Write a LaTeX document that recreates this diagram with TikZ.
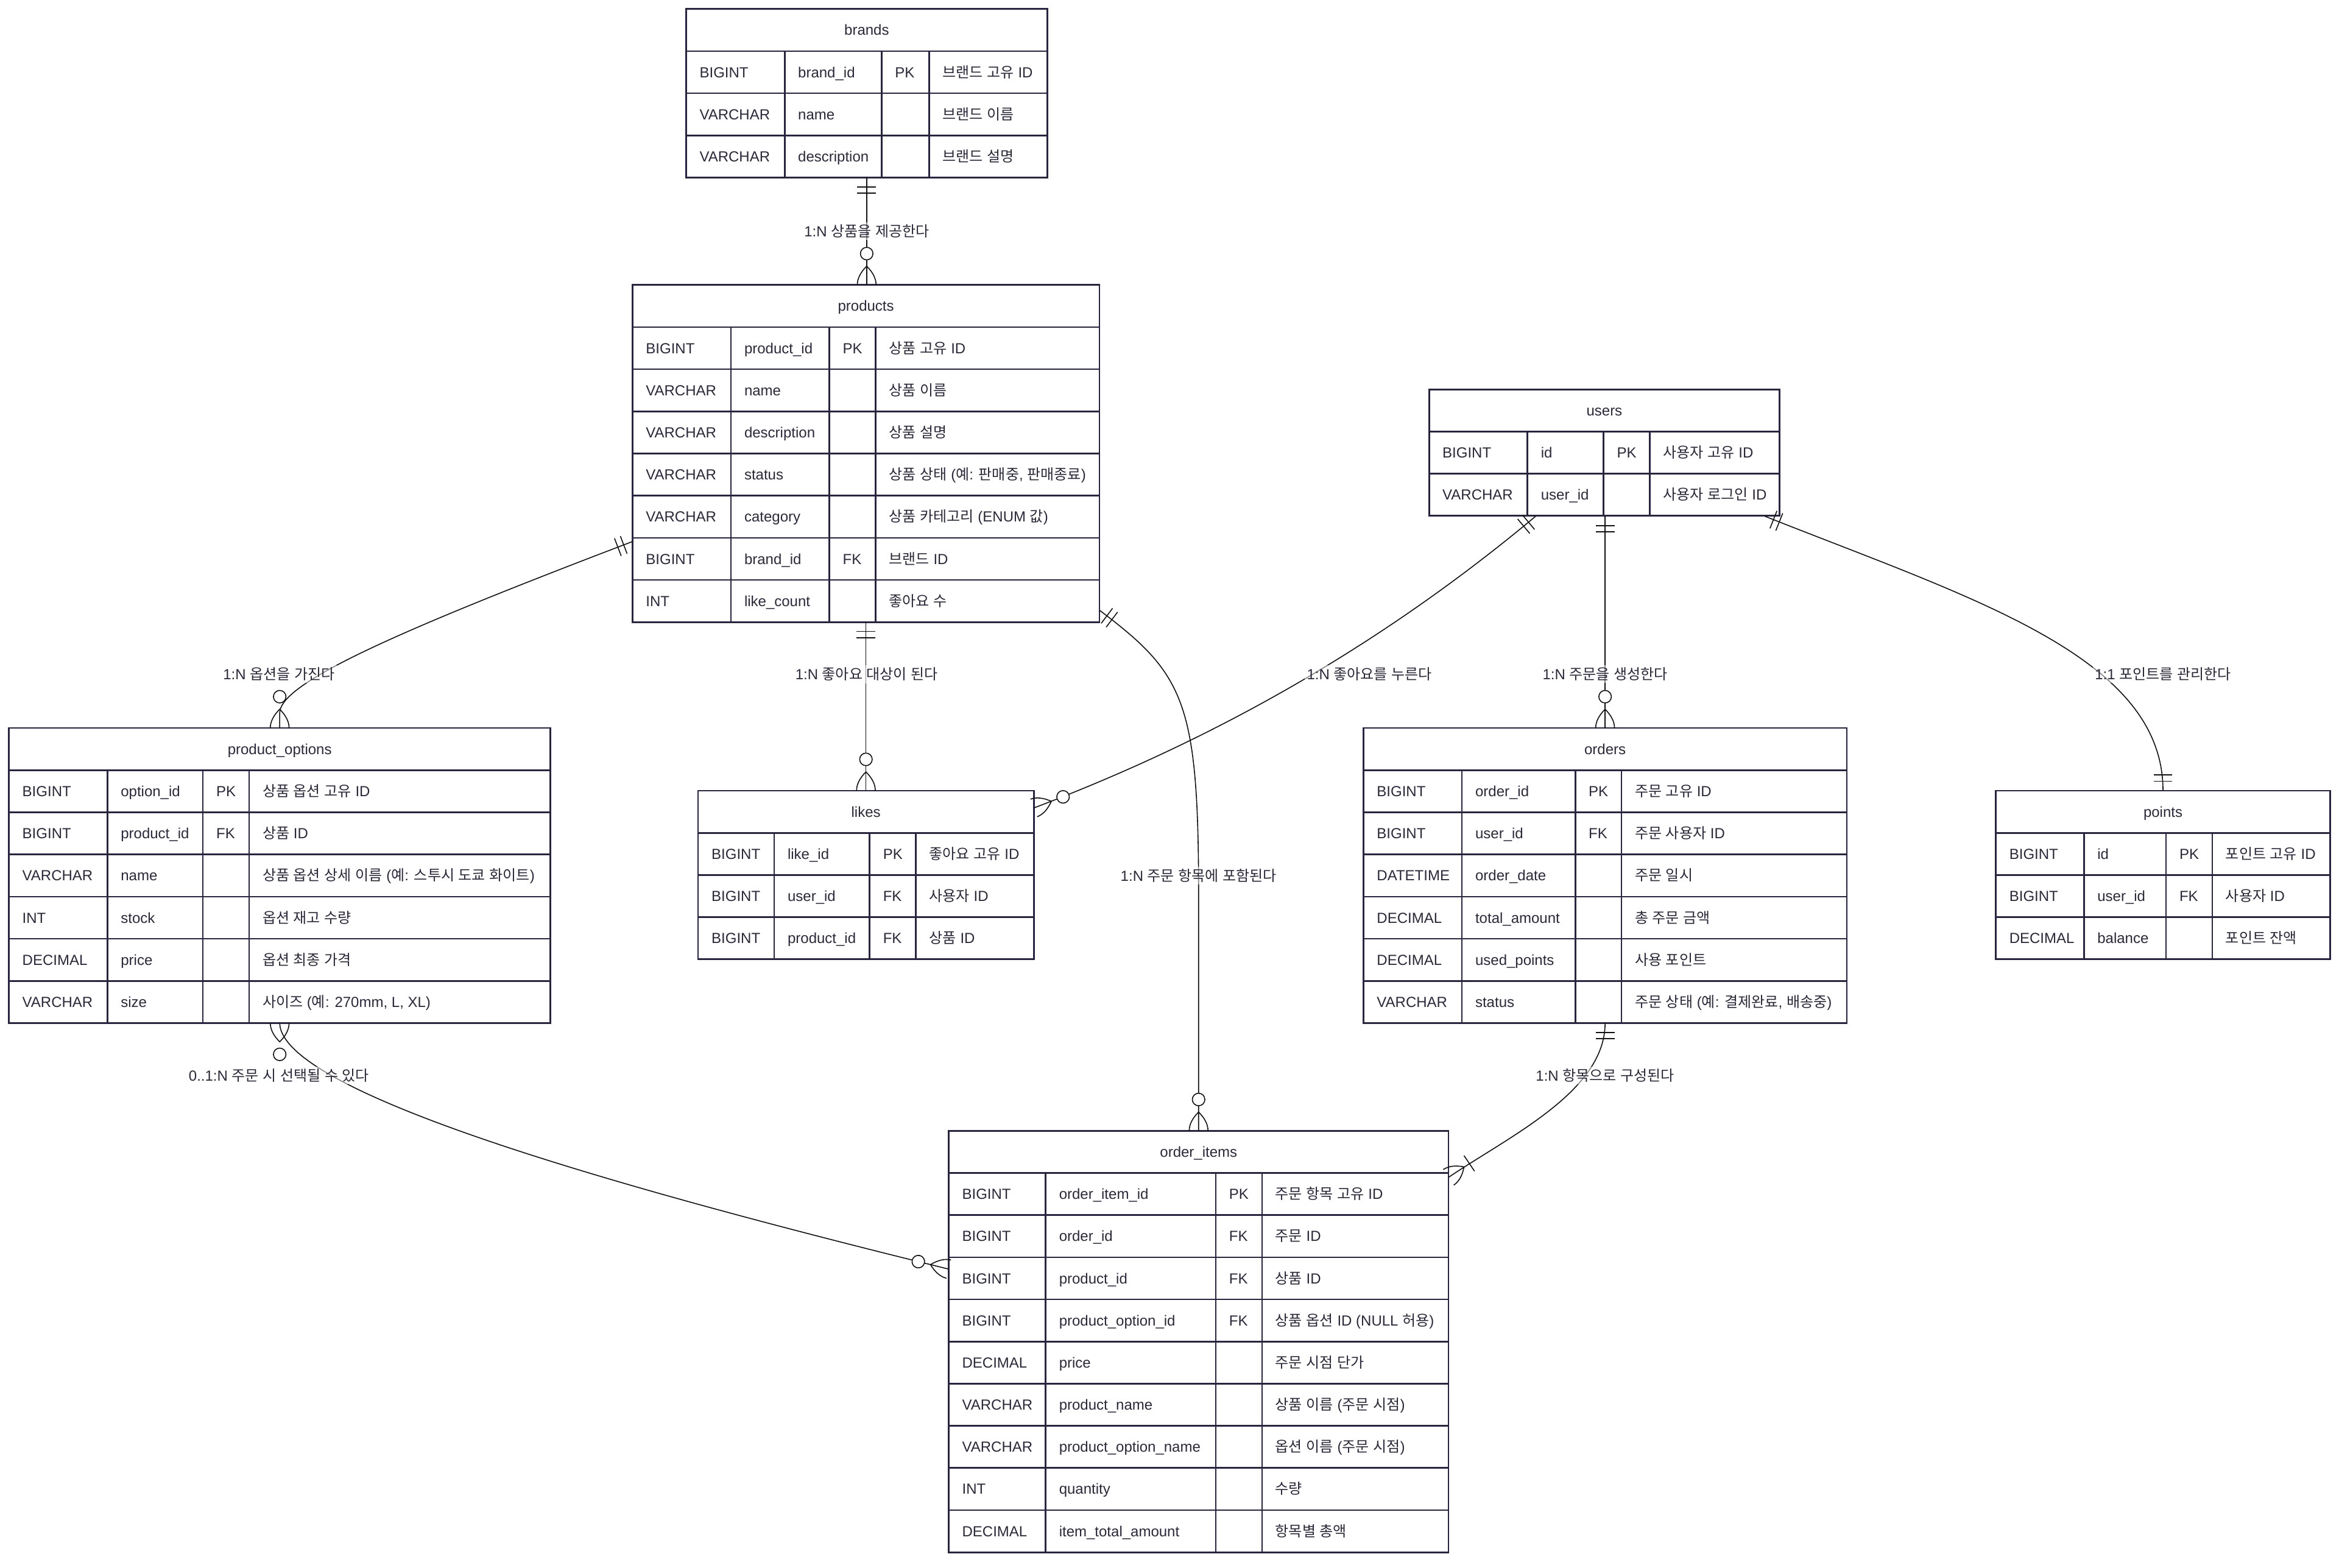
\documentclass[tikz,border=0pt]{standalone}
\usepackage{fontspec}
\setmainfont{Liberation Sans}
\newfontfamily\krfont[Scale=1.0]{Noto Sans CJK KR}
\usetikzlibrary{calc}
\definecolor{tblcol}{HTML}{28263F}
\definecolor{txtcol}{HTML}{2A2938}
\definecolor{lncol}{HTML}{111111}

% Hangul syllables -> Korean font, everything else -> Liberation Sans
\XeTeXinterchartokenstate=1
\newXeTeXintercharclass\krclass
\count255="AC00
\loop
\XeTeXcharclass\count255=\krclass
\advance\count255 by 1
\ifnum\count255<"D7A4
\repeat
\XeTeXinterchartoks 0 \krclass = {\krfont}
\XeTeXinterchartoks 4095 \krclass = {\krfont}
\XeTeXinterchartoks \krclass 0 = {\rmfamily}
\XeTeXinterchartoks \krclass 4095 = {\rmfamily}

\tikzset{
  tbl/.style={draw=tblcol, line width=1.1pt, fill=white, inner sep=0pt, outer sep=0pt, rectangle},
  gridln/.style={draw=tblcol, line width=1.1pt},
  cell/.style={anchor=base west, inner sep=0pt, outer sep=0pt, text=txtcol, font=\fontsize{9.8}{11}\selectfont},
  ttl/.style={anchor=base, inner sep=0pt, outer sep=0pt, text=txtcol, font=\fontsize{9.8}{11}\selectfont},
  conn/.style={draw=lncol, line width=0.65pt},
  lbl/.style={fill=white, fill opacity=0.5, text opacity=1, text=txtcol, inner sep=1.5pt, font=\fontsize{9.8}{11}\selectfont},
}

\newcommand\rh{28.25}
\newcommand\ertable[9]{%
  \def\tN{#1}\def\cA{#2}\def\cB{#3}\def\cC{#4}\def\cD{#5}\def\yO{#7}%
  \pgfmathsetmacro\tW{#6-#2}%
  \pgfmathsetmacro\tH{#8*\rh}%
  \pgfmathtruncatemacro\nL{#8-1}%
  \node[tbl, minimum width=\tW pt, minimum height=\tH pt, anchor=north west] (#1) at (#2,#7) {};%
  \foreach \i in {1,...,\nL}{\draw[gridln] (#2,{#7+\i*\rh}) -- (#6,{#7+\i*\rh});}%
  \foreach \xx in {#3,#4,#5}{\draw[gridln] (\xx,{#7+\rh}) -- (\xx,{#7+#8*\rh});}%
  \node[ttl] (#1-title) at ({(#2+#6)/2},{#7+0.5*\rh+3.5}) {#9};%
}
\newcommand\errow[5]{%
  \pgfmathsetmacro\yy{\yO+(#1+0.5)*\rh+3.5}%
  \node[cell] (\tN-r#1-t) at ({\cA+9},\yy) {#2};%
  \node[cell] (\tN-r#1-n) at ({\cB+9},\yy) {#3};%
  \if\relax\detokenize{#4}\relax\else\node[cell] (\tN-r#1-k) at ({\cC+9},\yy) {#4};\fi
  \node[cell] (\tN-r#1-c) at ({\cD+9},\yy) {#5};%
}

% relationship end markers (E = end on box, T = point along the line away from box)
\newcommand\getang[2]{\pgfmathanglebetweenpoints{\pgfpointanchor{#1}{center}}{\pgfpointanchor{#2}{center}}\global\let\mkang\pgfmathresult}
\newcommand\mkFoot{\draw[conn] (0,6.3) .. controls (4.2,6.3) and (8.4,4.2) .. (12.6,0) .. controls (8.4,-4.2) and (4.2,-6.3) .. (0,-6.3);}
\newcommand\mkOne[2]{\getang{#1}{#2}%
  \begin{scope}[shift={(#1)}, rotate=\mkang, x=1pt, y=1pt]
    \draw[conn] (6.3,-6.3) -- (6.3,6.3) (10.5,-6.3) -- (10.5,6.3);
  \end{scope}}
\newcommand\mkZeroMany[2]{\getang{#1}{#2}%
  \begin{scope}[shift={(#1)}, rotate=\mkang, x=1pt, y=1pt]
    \mkFoot
    \draw[conn, fill=white] (21,0) circle (4.2pt);
  \end{scope}}
\newcommand\mkOneMany[2]{\getang{#1}{#2}%
  \begin{scope}[shift={(#1)}, rotate=\mkang, x=1pt, y=1pt]
    \mkFoot
    \draw[conn] (16.8,-6.3) -- (16.8,6.3);
  \end{scope}}

\begin{document}
\begin{tikzpicture}[x=1pt, y=-1pt]
\fill[white] (0,0) rectangle (1568,1051);
\useasboundingbox (0,0) rectangle (1568,1051);

% ---------------- tables ----------------
\ertable{brands}{460}{526}{591}{623}{702}{6}{4}{brands}
\errow{1}{BIGINT}{brand\_id}{PK}{브랜드 고유 ID}
\errow{2}{VARCHAR}{name}{}{브랜드 이름}
\errow{3}{VARCHAR}{description}{}{브랜드 설명}

\ertable{products}{424}{490}{556}{587}{737}{191}{8}{products}
\errow{1}{BIGINT}{product\_id}{PK}{상품 고유 ID}
\errow{2}{VARCHAR}{name}{}{상품 이름}
\errow{3}{VARCHAR}{description}{}{상품 설명}
\errow{4}{VARCHAR}{status}{}{상품 상태 (예: 판매중, 판매종료)}
\errow{5}{VARCHAR}{category}{}{상품 카테고리 (ENUM 값)}
\errow{6}{BIGINT}{brand\_id}{FK}{브랜드 ID}
\errow{7}{INT}{like\_count}{}{좋아요 수}

\ertable{users}{958}{1024}{1075}{1106}{1193}{261}{3}{users}
\errow{1}{BIGINT}{id}{PK}{사용자 고유 ID}
\errow{2}{VARCHAR}{user\_id}{}{사용자 로그인 ID}

\ertable{productoptions}{6}{72}{136}{167}{369}{488}{7}{product\_options}
\errow{1}{BIGINT}{option\_id}{PK}{상품 옵션 고유 ID}
\errow{2}{BIGINT}{product\_id}{FK}{상품 ID}
\errow{3}{VARCHAR}{name}{}{상품 옵션 상세 이름 (예: 스투시 도쿄 화이트)}
\errow{4}{INT}{stock}{}{옵션 재고 수량}
\errow{5}{DECIMAL}{price}{}{옵션 최종 가격}
\errow{6}{VARCHAR}{size}{}{사이즈 (예: 270mm, L, XL)}

\ertable{likes}{468}{519}{583}{614}{693}{530}{4}{likes}
\errow{1}{BIGINT}{like\_id}{PK}{좋아요 고유 ID}
\errow{2}{BIGINT}{user\_id}{FK}{사용자 ID}
\errow{3}{BIGINT}{product\_id}{FK}{상품 ID}

\ertable{orders}{914}{980}{1056}{1087}{1238}{488}{7}{orders}
\errow{1}{BIGINT}{order\_id}{PK}{주문 고유 ID}
\errow{2}{BIGINT}{user\_id}{FK}{주문 사용자 ID}
\errow{3}{DATETIME}{order\_date}{}{주문 일시}
\errow{4}{DECIMAL}{total\_amount}{}{총 주문 금액}
\errow{5}{DECIMAL}{used\_points}{}{사용 포인트}
\errow{6}{VARCHAR}{status}{}{주문 상태 (예: 결제완료, 배송중)}

\ertable{points}{1338}{1397}{1452}{1483}{1562}{530}{4}{points}
\errow{1}{BIGINT}{id}{PK}{포인트 고유 ID}
\errow{2}{BIGINT}{user\_id}{FK}{사용자 ID}
\errow{3}{DECIMAL}{balance}{}{포인트 잔액}

\ertable{orderitems}{636}{701}{815}{846}{971}{758}{10}{order\_items}
\errow{1}{BIGINT}{order\_item\_id}{PK}{주문 항목 고유 ID}
\errow{2}{BIGINT}{order\_id}{FK}{주문 ID}
\errow{3}{BIGINT}{product\_id}{FK}{상품 ID}
\errow{4}{BIGINT}{product\_option\_id}{FK}{상품 옵션 ID (NULL 허용)}
\errow{5}{DECIMAL}{price}{}{주문 시점 단가}
\errow{6}{VARCHAR}{product\_name}{}{상품 이름 (주문 시점)}
\errow{7}{VARCHAR}{product\_option\_name}{}{옵션 이름 (주문 시점)}
\errow{8}{INT}{quantity}{}{수량}
\errow{9}{DECIMAL}{item\_total\_amount}{}{항목별 총액}

% ---------------- connector end points ----------------
\coordinate (c1a) at (brands.south);
\coordinate (c1b) at (brands.south |- products.north);
\coordinate (c2a) at (424,363);
\coordinate (c2p) at (264.7,423.7);
\coordinate (c2q) at (187.5,458);
\coordinate (c2b) at (productoptions.north);
\coordinate (c3a) at (products.south);
\coordinate (c3b) at (likes.north);
\coordinate (c4a) at (737,409);
\coordinate (c4p) at (793.7,451.7);
\coordinate (c4q) at (803.5,600);
\coordinate (c4b) at (orderitems.north);
\coordinate (c5a) at (1029.5,346);
\coordinate (c5p) at (906.3,448.9);
\coordinate (c5q) at (786.9,505.9);
\coordinate (c5b) at (693,541.6);
\coordinate (c6a) at (1076,346);
\coordinate (c6b) at (orders.north);
\coordinate (c7a) at (1183,346);
\coordinate (c7p) at (1322.5,401.4);
\coordinate (c7q) at (1450,440);
\coordinate (c7b) at (points.north);
\coordinate (c8a) at (orders.south);
\coordinate (c8p) at (1076,731.3);
\coordinate (c8q) at (1013,760.9);
\coordinate (c8b) at (971,789.2);
\coordinate (c9a) at (productoptions.south);
\coordinate (c9d) at (187.5,750);
\coordinate (c9p) at (188.5,735);
\coordinate (c9q) at (441.4,802.7);
\coordinate (c9b) at (636,850.7);

% ---------------- connectors ----------------
\draw[conn] (c1a) -- (c1b);
\draw[conn] (c2a) .. controls (c2p) and (c2q) .. (187.5,478) -- (c2b);
\draw[conn] (c3a) -- (c3b);
\draw[conn] (c4a) .. controls (c4p) and (803.5,470) .. (c4q) -- (c4b);
\draw[conn] (c5a) .. controls (c5p) and (c5q) .. (c5b);
\draw[conn] (c6a) -- (c6b);
\draw[conn] (c7a) .. controls (c7p) and (c7q) .. (c7b);
\draw[conn] (c8a) .. controls (c8p) and (c8q) .. (c8b);
\draw[conn] (c9a) .. controls (c9p) and (c9q) .. (c9b);

% ---------------- markers ----------------
\mkOne{c1a}{c1b}      \mkZeroMany{c1b}{c1a}
\mkOne{c2a}{c2p}      \mkZeroMany{c2b}{c2q}
\mkOne{c3a}{c3b}      \mkZeroMany{c3b}{c3a}
\mkOne{c4a}{c4p}      \mkZeroMany{c4b}{c4q}
\mkOne{c5a}{c5p}      \mkZeroMany{c5b}{c5q}
\mkOne{c6a}{c6b}      \mkZeroMany{c6b}{c6a}
\mkOne{c7a}{c7p}      \mkOne{c7b}{c7q}
\mkOne{c8a}{c8p}      \mkOneMany{c8b}{c8q}
\mkZeroMany{c9a}{c9d} \mkZeroMany{c9b}{c9q}

% ---------------- labels ----------------
\node[lbl] (l1) at (581,155) {1:N 상품을 제공한다};
\node[lbl] (l2) at (187,452) {1:N 옵션을 가진다};
\node[lbl] (l3) at (581,452) {1:N 좋아요 대상이 된다};
\node[lbl] (l4) at (803.5,587) {1:N 주문 항목에 포함된다};
\node[lbl] (l5) at (918,452) {1:N 좋아요를 누른다};
\node[lbl] (l6) at (1076,452) {1:N 주문을 생성한다};
\node[lbl] (l7) at (1450,452) {1:1 포인트를 관리한다};
\node[lbl] (l8) at (1076,721) {1:N 항목으로 구성된다};
\node[lbl] (l9) at (187,721) {0..1:N 주문 시 선택될 수 있다};
\end{tikzpicture}
\end{document}
